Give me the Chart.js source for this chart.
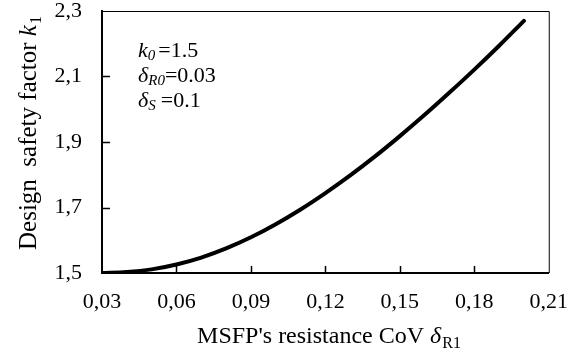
<!DOCTYPE html>
<html>
<head>
<meta charset="utf-8">
<script src="https://cdn.jsdelivr.net/npm/chart.js@4"></script>
<style>
  html, body { margin:0; padding:0; background:#fff; }
  #wrap { width:584px; height:356px; }
</style>
</head>
<body>
<div id="wrap"><canvas id="chart" width="584" height="356"></canvas></div>
<script>
// values
const covR1 = [0.03, 0.04, 0.05, 0.06, 0.07, 0.08, 0.09, 0.10, 0.11, 0.12,
               0.13, 0.14, 0.15, 0.16, 0.17, 0.18, 0.19, 0.20];
const k1    = [1.500, 1.503, 1.511, 1.526, 1.547, 1.575, 1.609, 1.649, 1.694, 1.744,
               1.798, 1.856, 1.918, 1.983, 2.051, 2.121, 2.194, 2.270];
const xTicks = [0.03, 0.06, 0.09, 0.12, 0.15, 0.18, 0.21];
const yTicks = [1.5, 1.7, 1.9, 2.1, 2.3];

const SERIF = '"Liberation Serif", "Times New Roman", serif';
const comma = (v, d) => v.toFixed(d).replace('.', ',');

// draws a run of text pieces starting at x, returns end x
function runs(ctx, parts, x, y){
  for(const p of parts){
    ctx.font = p.font;
    ctx.fillText(p.t, x, y + (p.dy||0));
    x += ctx.measureText(p.t).width + (p.gap||0);
  }
  return x;
}
function runsWidth(ctx, parts){
  let w = 0;
  for(const p of parts){ ctx.font = p.font; w += ctx.measureText(p.t).width + (p.gap||0); }
  return w;
}

const decor = {
  id:'decor',
  afterDraw(chart){
    const {ctx, chartArea:a, scales:{x, y}} = chart;
    ctx.save();
    ctx.strokeStyle = '#000';
    // thin top/right frame
    ctx.lineWidth = 1;
    ctx.beginPath();
    ctx.moveTo(a.left, a.top + 0.5); ctx.lineTo(a.right + 0.5, a.top + 0.5);
    ctx.lineTo(a.right + 0.5, a.bottom);
    ctx.stroke();
    // inward ticks
    ctx.lineWidth = 1.5;
    ctx.beginPath();
    for(const v of xTicks.slice(1, -1)){
      const px = Math.round(x.getPixelForValue(v)) + 0.5;
      ctx.moveTo(px, a.bottom); ctx.lineTo(px, a.bottom - 7);
    }
    for(const v of yTicks.slice(1, -1)){
      const py = Math.round(y.getPixelForValue(v)) + 0.5;
      ctx.moveTo(a.left, py); ctx.lineTo(a.left + 8, py);
    }
    ctx.stroke();

    ctx.fillStyle = '#000';
    ctx.textBaseline = 'alphabetic';
    ctx.textAlign = 'left';
    const n = '24px ' + SERIF, it = 'italic 24px ' + SERIF;
    const sub = '16px ' + SERIF;

    // x axis title
    const xt = [
      {t:"MSFP's resistance CoV ", font:n},
      {t:'\u03b4', font:it, gap:1},
      {t:'R1', font:sub, dy:5}
    ];
    const xw = runsWidth(ctx, xt);
    runs(ctx, xt, 329 - xw/2, 343);

    // y axis title
    const yn = '25px ' + SERIF;
    const yt = [
      {t:'Design  safety factor ', font:yn},
      {t:'k', font:'italic 25px ' + SERIF, gap:1},
      {t:'1', font:'16px ' + SERIF, dy:5}
    ];
    const yw = runsWidth(ctx, yt);
    ctx.save();
    ctx.translate(36, 133);
    ctx.rotate(-Math.PI/2);
    runs(ctx, yt, -yw/2, 0);
    ctx.restore();

    // parameter note
    const nn = '22px ' + SERIF, ni = 'italic 22px ' + SERIF, si = 'italic 15px ' + SERIF;
    const lx = a.left + 36;
    runs(ctx, [{t:'k', font:ni}, {t:'0', font:si, dy:3, gap:3}, {t:'=1.5', font:nn}], lx, 57);
    runs(ctx, [{t:'\u03b4', font:ni}, {t:'R0', font:si, dy:3}, {t:'=0.03', font:nn}], lx, 82);
    runs(ctx, [{t:'\u03b4', font:ni}, {t:'S', font:si, dy:3, gap:5}, {t:'=0.1', font:nn}], lx, 107);
    ctx.restore();
  }
};

new Chart(document.getElementById('chart'), {
  type:'scatter',
  data:{
    datasets:[{
      data: covR1.map((v, i) => ({x:v, y:k1[i]})),
      showLine:true,
      borderColor:'#000',
      borderWidth:4,
      borderCapStyle:'round',
      pointRadius:0,
      cubicInterpolationMode:'monotone',
      fill:false
    }]
  },
  options:{
    responsive:false,
    animation:false,
    layout:{ padding:{ top:0, right:33, left:0, bottom:0 } },
    plugins:{ legend:{ display:false }, tooltip:{ enabled:false } },
    scales:{
      x:{
        type:'linear', min:0.03, max:0.21,
        afterBuildTicks: s => { s.ticks = xTicks.map(v => ({value:v})); },
        afterFit: s => { s.height = 83; },
        grid:{ display:false, drawTicks:false },
        border:{ display:true, color:'#000', width:2 },
        ticks:{ padding:16, color:'#000', maxRotation:0, autoSkip:false,
                font:{ family:SERIF, size:22 }, callback: v => comma(v, 2) }
      },
      y:{
        type:'linear', min:1.5, max:2.3,
        afterBuildTicks: s => { s.ticks = yTicks.map(v => ({value:v})); },
        afterFit: s => { s.width = 102; s.paddingTop = 11; s.paddingBottom = 0; },
        grid:{ display:false, drawTicks:false },
        border:{ display:true, color:'#000', width:2 },
        ticks:{ padding:20, color:'#000', autoSkip:false,
                font:{ family:SERIF, size:22 }, callback: v => comma(v, 1) }
      }
    }
  },
  plugins:[decor]
});
</script>
</body>
</html>
